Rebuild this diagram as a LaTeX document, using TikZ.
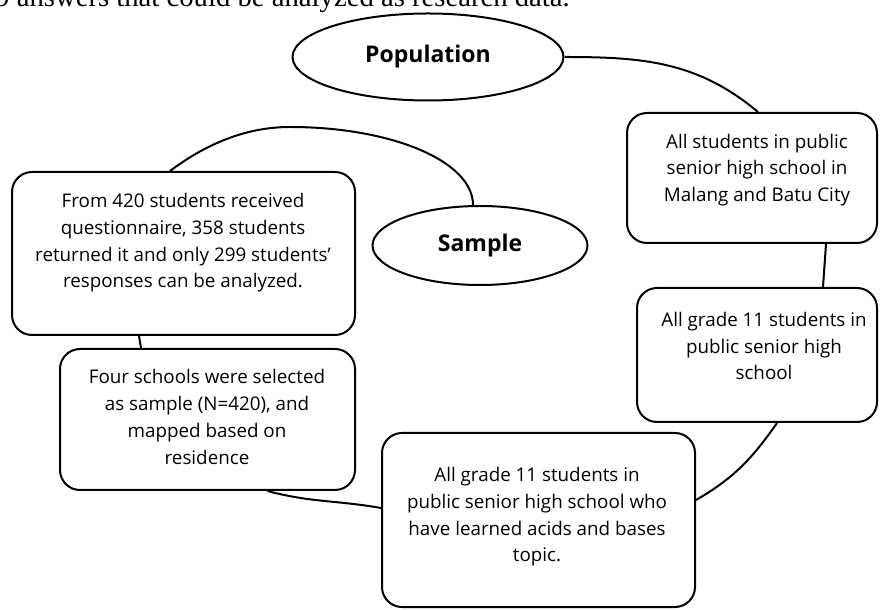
\documentclass[tikz,border=0pt]{standalone}
\usepackage{fontspec}
\setmainfont{Open Sans}
\newfontfamily\pagefont{Liberation Serif}
\usetikzlibrary{shapes.geometric,positioning}

\begin{document}
\begin{tikzpicture}[x=1pt,y=1pt,line join=round,
    box/.style={draw,line width=2pt,rounded corners=20pt,inner sep=0pt},
    blob/.style={draw,ellipse,line width=2pt,inner sep=0pt,font=\bfseries\fontsize{23}{25}\selectfont},
    words/.style={align=center,inner sep=0pt,font=\fontsize{18.8}{26.7}\selectfont},
    link/.style={line width=2pt}]
   \useasboundingbox (0,0) rectangle (880,610);
   \clip (0,0) rectangle (880,610);
   % line of the page above the figure
   \node[anchor=base east,inner sep=0pt,font=\pagefont\fontsize{28.7}{32}\selectfont] (para) at (570,603)
        {9 answers that could be analyzed as research data.};
   % ellipses
   \node[blob,minimum width=271,minimum height=87] (pop) at (428,553) {Population};
   \node[blob,minimum width=215,minimum height=79] (samp) at (480,364.5) {Sample};
   % boxes
   \node[box,minimum width=250,minimum height=130] (b1) at (752,432) {};
   \node[box,minimum width=240,minimum height=134] (b2) at (757,255) {};
   \node[box,minimum width=313,minimum height=174] (b3) at (538.5,90) {};
   \node[box,minimum width=295,minimum height=141] (b4) at (207.5,190.5) {};
   \node[box,minimum width=343,minimum height=163] (b5) at (183.5,356.5) {};
   \node[words] (t1) at (757,440) {All students in public\\senior high school in\\Malang and Batu City};
   \node[words] (t2) at (764,264) {All grade 11 students in\\public senior high\\school};
   \node[words] (t3) at (537,93) {All grade 11 students in\\public senior high school who\\have learned acids and bases\\topic.};
   \node[words] (t4) at (207,193) {Four schools were selected\\as sample (N=420), and\\mapped based on\\residence};
   \node[words] (t5) at (183,367) {From 420 students received\\questionnaire, 358 students\\returned it and only 299 students'\\responses can be analyzed.};
   % connectors
   \draw[link] (pop.east) to[out=0,in=140] ([xshift=6]b1.north);
   \draw[link] ([xshift=74]b1.south) -- ([xshift=66]b2.north);
   \draw[link] ([xshift=20]b2.south) to[out=-125,in=30] ([yshift=20]b3.east);
   \draw[link] ([xshift=60]b4.south) to[out=-15,in=170] ([yshift=12]b3.west);
   \draw[link] ([xshift=-66.5]b4.north) -- ([xshift=-44.5]b5.south);
   \draw[link] ([xshift=-13.5]b5.north) .. controls +(40,30) and +(-40,0) .. (290,483)
        .. controls +(101,0) and +(0,44) .. ([xshift=-7]samp.north);
\end{tikzpicture}
\end{document}
